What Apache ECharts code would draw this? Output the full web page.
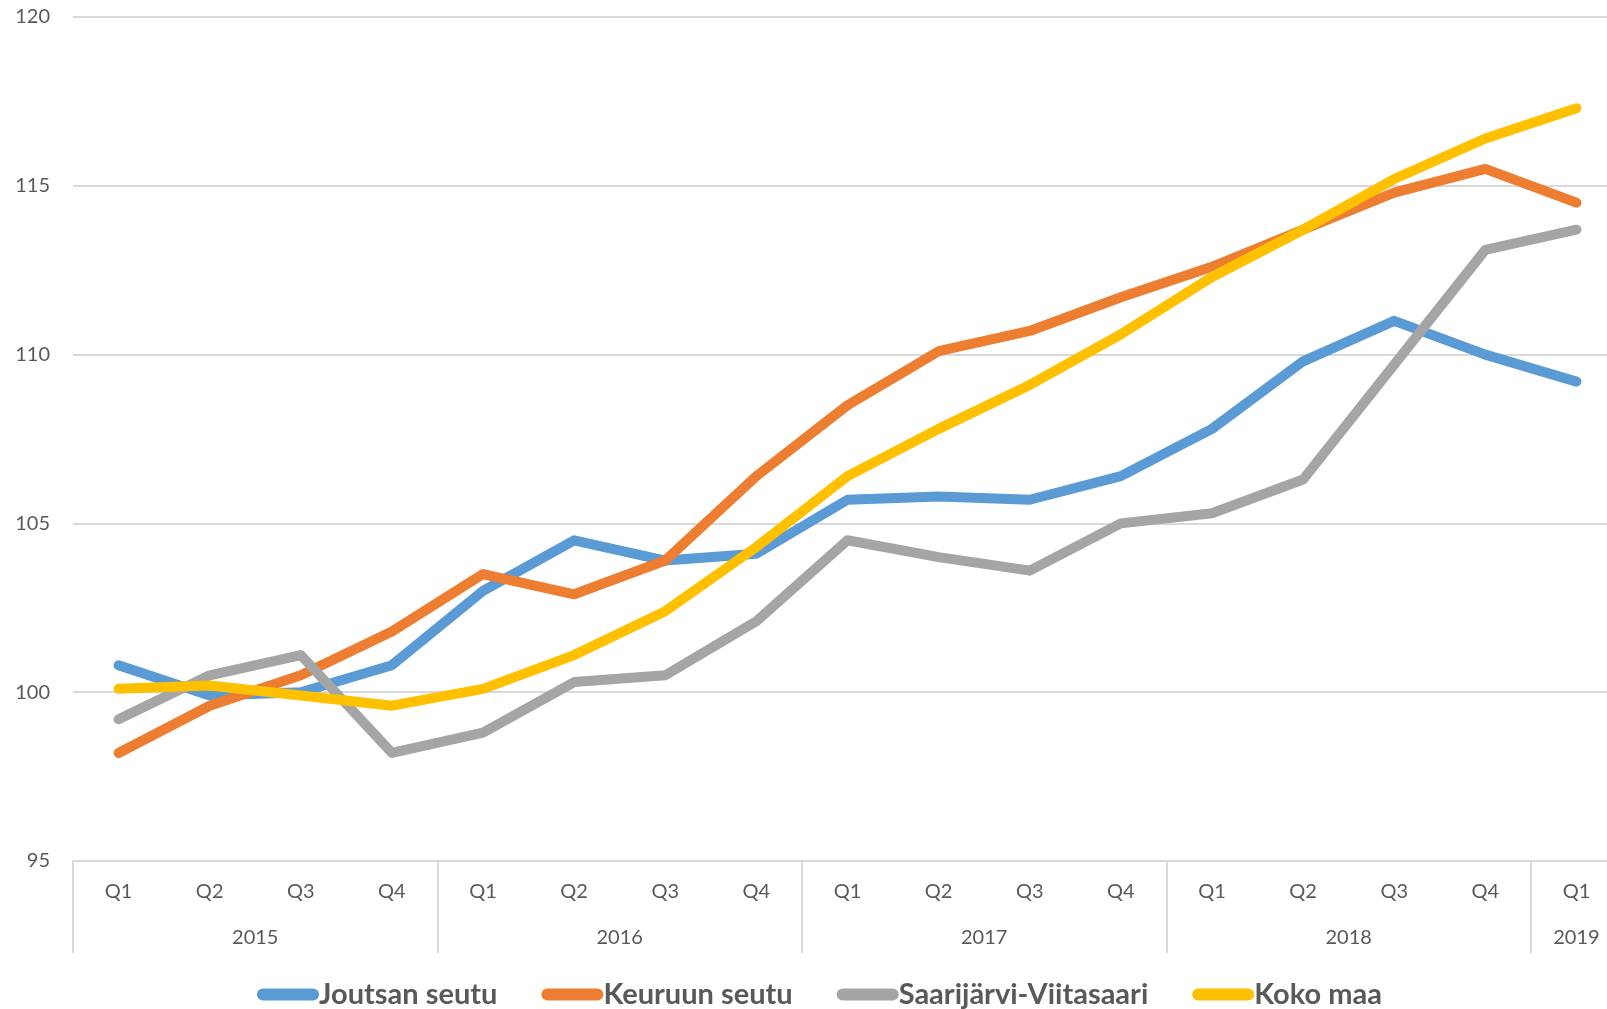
<!DOCTYPE html>
<html>
<head>
<meta charset="utf-8">
<script src="https://cdn.jsdelivr.net/npm/echarts@6/dist/echarts.min.js"></script>
<style>
  html, body { margin: 0; padding: 0; background: #fff; }
  #chart { width: 1607px; height: 1009px; }
</style>
</head>
<body>
<div id="chart"></div>
<script>
var quarters = ['Q1', 'Q2', 'Q3', 'Q4', 'Q1', 'Q2', 'Q3', 'Q4', 'Q1', 'Q2', 'Q3', 'Q4', 'Q1', 'Q2', 'Q3', 'Q4', 'Q1'];
var years = ['2015', '2016', '2017', '2018', '2019'];
var quartersPerYear = [4, 4, 4, 4, 1];

var joutsan = [100.8, 99.9, 100.0, 100.8, 103.0, 104.5, 103.9, 104.1, 105.7, 105.8, 105.7, 106.4, 107.8, 109.8, 111.0, 110.0, 109.2];
var keuruu = [98.2, 99.6, 100.5, 101.8, 103.5, 102.9, 103.9, 106.4, 108.5, 110.1, 110.7, 111.7, 112.6, 113.7, 114.8, 115.5, 114.5];
var saarijarvi = [99.2, 100.5, 101.1, 98.2, 98.8, 100.3, 100.5, 102.1, 104.5, 104.0, 103.6, 105.0, 105.3, 106.3, 109.7, 113.1, 113.7];
var kokoMaa = [100.1, 100.2, 99.9, 99.6, 100.1, 101.1, 102.4, 104.3, 106.4, 107.8, 109.1, 110.6, 112.3, 113.7, 115.2, 116.4, 117.3];

var names = ['Joutsan seutu', 'Keuruun seutu', 'Saarijärvi-Viitasaari', 'Koko maa'];
var colors = ['#5B9BD5', '#ED7D31', '#A5A5A5', '#FFC000'];

// year group boundaries and label centres
var yearTicks = [];
var yearCenters = [];
var pos = 0;
quartersPerYear.forEach(function(n) {
    yearTicks.push(pos);
    yearCenters.push(pos + n / 2);
    pos += n;
});

var chart = echarts.init(document.getElementById('chart'));
var font = 'Lato, "Open Sans", sans-serif';

var mkSeries = function(i, data) {
    return {
        name: names[i],
        type: 'line',
        data: data,
        symbol: 'none',
        xAxisIndex: 0,
        lineStyle: { width: 10, color: colors[i], cap: 'round', join: 'round' },
        itemStyle: { color: colors[i] },
        emphasis: { disabled: true }
    };
};

var option = {
    animation: false,
    textStyle: { fontFamily: font },
    // plot runs a little past the right edge, like the original
    grid: { left: 73, width: 1549, top: 17, bottom: 148, containLabel: false, outerBoundsMode: 'none' },
    xAxis: [{
        type: 'category',
        data: quarters,
        boundaryGap: true,
        axisLine: { lineStyle: { color: '#d9d9d9', width: 2 } },
        axisTick: { show: false },
        axisLabel: { color: '#595959', fontSize: 20, margin: 21, fontFamily: font }
    }, {
        type: 'value',
        position: 'bottom',
        min: 0,
        max: quarters.length,
        axisLine: { show: false },
        splitLine: { show: false },
        axisTick: {
            show: true,
            customValues: yearTicks,
            length: 92,
            lineStyle: { color: '#d9d9d9', width: 2 }
        },
        axisLabel: {
            customValues: yearCenters,
            color: '#595959',
            fontSize: 20,
            margin: 67,
            fontFamily: font,
            formatter: function(v) {
                var idx = yearCenters.indexOf(v);
                return idx >= 0 ? years[idx] : '';
            }
        }
    }],
    yAxis: {
        type: 'value',
        min: 95,
        max: 120,
        interval: 5,
        axisLine: { show: false },
        axisTick: { show: false },
        splitLine: { lineStyle: { color: '#d9d9d9', width: 2 } },
        axisLabel: { color: '#595959', fontSize: 20, margin: 23, fontFamily: font }
    },
    legend: {
        data: names,
        left: 252,
        top: 975,
        itemWidth: 62,
        itemHeight: 12,
        itemGap: 44,
        icon: 'path://M6,0 H56 A6,6 0 0 1 56,12 H6 A6,6 0 0 1 6,0 Z',
        textStyle: { color: '#595959', fontSize: 29, fontWeight: 'bold', fontFamily: font, padding: [0, 0, 0, -5] }
    },
    series: [
        mkSeries(0, joutsan),
        mkSeries(1, keuruu),
        mkSeries(2, saarijarvi),
        mkSeries(3, kokoMaa)
    ]
};

chart.setOption(option);
</script>
</body>
</html>
